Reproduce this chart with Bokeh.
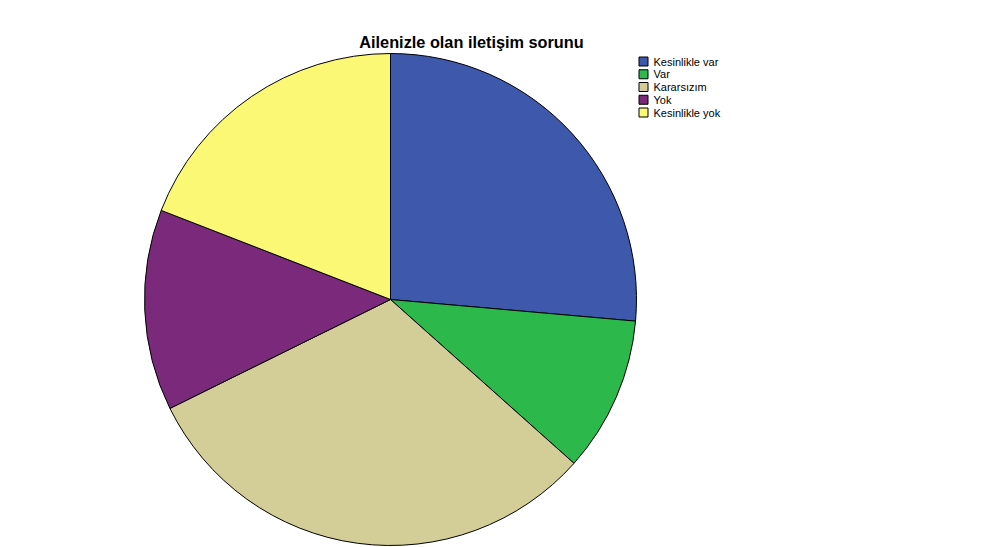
import math
from bokeh.plotting import figure
from bokeh.models import Range1d, ColumnDataSource
from bokeh.core.properties import value
from bokeh.embed import file_html
from bokeh.resources import INLINE

title = "Ailenizle olan iletişim sorunu"
categories = ["Kesinlikle var", "Var", "Kararsızım", "Yok", "Kesinlikle yok"]
percents = [26.4, 10.2, 31.1, 13.2, 19.1]
colors = ["#3E58AC", "#2DB84B", "#D3CE97", "#7B2A7B", "#FBF875"]

W, H = 973, 547
p = figure(width=W, height=H, output_backend="svg", toolbar_location=None,
           x_range=Range1d(0, W), y_range=Range1d(0, H),
           min_border=0, outline_line_color=None)
p.axis.visible = False
p.grid.visible = False
p.background_fill_color = "white"
p.border_fill_color = "white"

def X(px):
    return px

def Y(py):
    return H - py

total = sum(percents)
starts, ends = [], []
cum = 0.0
for v in percents:
    starts.append(math.pi / 2 - 2 * math.pi * cum / total)
    cum += v
    ends.append(math.pi / 2 - 2 * math.pi * cum / total)

src = ColumnDataSource(dict(start=starts, end=ends, color=colors, cat=categories))
p.wedge(x=X(390), y=Y(299), radius=246, start_angle="start", end_angle="end",
        direction="clock", fill_color="color", line_color="black", line_width=1,
        source=src)

p.text(x=[X(471)], y=[Y(41)], text=[title], text_font=value("Liberation Sans"),
       text_font_style="bold", text_font_size="16.3px", text_align="center",
       text_baseline="middle", text_color="black")

ly = [Y(61 + 12.75 * i) for i in range(len(categories))]
p.rect(x=[X(643)] * len(categories), y=ly, width=9, height=9,
       fill_color=colors, line_color="black", line_width=1)
p.text(x=[X(653)] * len(categories), y=ly, text=categories,
       text_font=value("Liberation Sans"), text_font_size="11px",
       text_baseline="middle", text_align="left", text_color="black")

open("out.html", "w").write(file_html(p, INLINE))
